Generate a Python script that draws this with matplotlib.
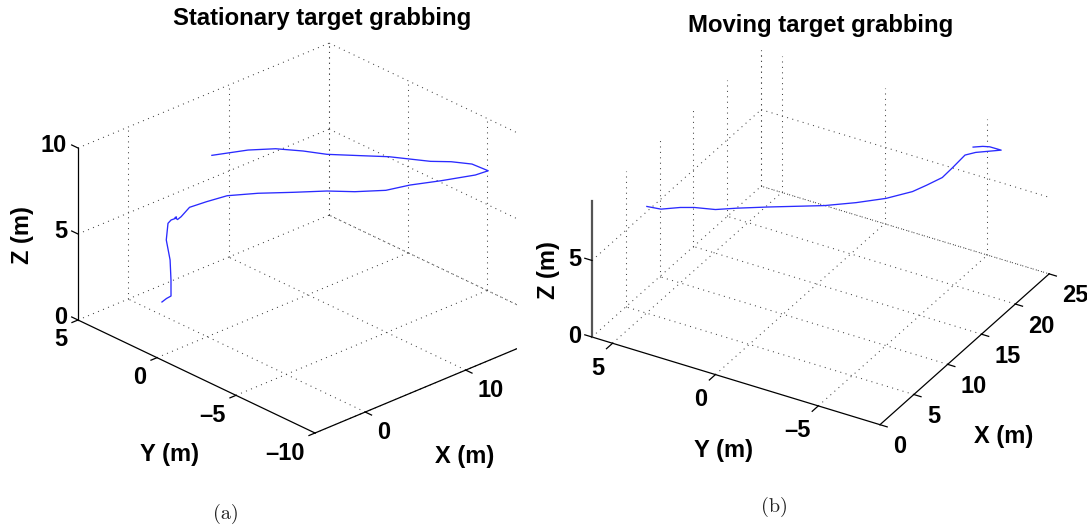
import matplotlib
matplotlib.use("Agg")
import matplotlib.pyplot as plt
from matplotlib.patches import Rectangle
from matplotlib.transforms import IdentityTransform
from mpl_toolkits.mplot3d import proj3d

W_PX, H_PX = 1087, 531
SANS = "Liberation Sans"

# ---------- data, panel (a) ----------
a_x = [-0.07, 0.27, 0.50, 0.56, 0.44, 0.17, 0.20, 0.35, 0.59, 0.59, 0.55, 0.55, 0.67, 1.40, 2.36, 3.73,
       5.45, 7.30, 9.17, 10.57, 12.37, 14.14, 16.36, 18.82, 19.98, 19.29, 18.25, 17.01, 14.94,
       13.41, 11.53, 10.44, 8.85, 7.05, 4.16]
a_y = [2.82, 2.75, 2.61, 2.65, 2.63, 2.70, 2.61, 2.51, 2.37, 2.32, 2.39, 2.23, 2.08, 2.01, 1.54, 1.11,
       0.25, -0.77, -1.75, -2.62, -3.44, -3.84, -4.39, -5.00, -5.08, -4.49, -3.83, -3.32, -2.01,
       -1.25, -0.25, 0.57, 1.30, 1.90, 2.35]
a_z = [0.8, 0.95, 1.1, 2.0, 3.2, 4.4, 5.4, 5.6, 5.7, 5.8, 5.75, 5.7, 5.9, 6.3, 6.6, 6.8,
       6.9, 6.95, 7.0, 7.0, 7.0, 7.05, 7.0, 7.0, 7.0, 7.3, 7.4, 7.5, 7.7,
       7.8, 7.9, 8.0, 8.2, 8.3, 8.5]
a_xlim, a_ylim, a_zlim = (-5, 20), (-10, 5), (0, 10)
a_xticks = [0, 10, 20]
a_yticks = [5, 0, -5, -10]
a_zticks = [0, 5, 10]

# ---------- data, panel (b) ----------
b_x = [3.06, 3.26, 4.19, 4.72, 5.26, 6.22, 7.56, 9.85, 11.41, 13.06, 14.89, 16.19, 17.75, 19.39,
       21.38, 22.11, 23.35, 23.33, 23.12, 22.67]
b_y = [4.34, 3.72, 3.09, 2.58, 1.73, 1.02, -0.08, -2.06, -3.09, -4.00, -4.68, -4.93, -5.19, -5.16,
       -5.10, -5.38, -6.21, -5.66, -5.39, -5.07]
b_z = [8.0] * 20
b_xlim, b_ylim, b_zlim = (0, 25), (-8, 6), (0, 8.9)
b_xticks = [0, 5, 10, 15, 20, 25]
b_yticks = [5, 0, -5]
b_zticks = [0, 5]

fig = plt.figure(figsize=(W_PX / 100, H_PX / 100), dpi=100, facecolor="white")


def make_axes(azim, elev, box, xlim, ylim, zlim, corner0, corner1, p0, p1):
    ax = fig.add_axes([0.1, 0.1, 500 / W_PX, 500 / H_PX], projection="3d")
    ax.set_proj_type("ortho")
    ax.view_init(elev=elev, azim=azim)
    ax.set_xlim(*xlim, view_margin=0)
    ax.set_ylim(*ylim, view_margin=0)
    ax.set_zlim(*zlim, view_margin=0)
    ax.set_box_aspect(box)
    ax.set_axis_off()
    ax.computed_zorder = False
    ax.apply_aspect()
    # place the axes so that two box corners land at the wanted pixels
    n0 = ax.transAxes.inverted().transform(to_disp(ax, *corner0))
    n1 = ax.transAxes.inverted().transform(to_disp(ax, *corner1))
    w = (p1[0] - p0[0]) / (n1[0] - n0[0])
    left = p0[0] - n0[0] * w
    bottom = (H_PX - p0[1]) - n0[1] * w
    ax.set_position([left / W_PX, bottom / H_PX, w / W_PX, w / H_PX])
    ax.apply_aspect()
    return ax


def to_disp(ax, x, y, z):
    xs, ys, _ = proj3d.proj_transform(x, y, z, ax.get_proj())
    return ax.transData.transform((xs, ys))


def put(ax, x, y, z, s, dx, dy, size=17, ha="center", **kw):
    px, py = to_disp(ax, x, y, z)
    return fig.text(px + dx, py - dy, s, transform=IdentityTransform(), ha=ha, va="center",
                    fontsize=size, fontweight="bold", family=SANS, **kw)


def segments(ax, segs, clip, **kw):
    for (p, q) in segs:
        ln, = ax.plot([p[0], q[0]], [p[1], q[1]], [p[2], q[2]], **kw)
        if clip is not None:
            ln.set_clip_path(Rectangle((0, 0), clip, H_PX, transform=IdentityTransform()))
        else:
            ln.set_clip_on(False)


def draw_box(ax, xlim, ylim, zlim, xt, yt, zt, ztop, clip, zaxis_kw, tick_dx, tick_dy, tick_dzy):
    x0, x1 = xlim
    y0, y1 = ylim
    z0 = zlim[0]
    gkw = dict(color="#444444", lw=0.75, linestyle=(0, (1, 4.2)), zorder=1)
    grid = []
    xs = [v for v in xt if v > x0]
    ys = [v for v in yt if v < y1]
    # left wall y = y1 and back wall x = x1
    for z in zt:
        grid.append(((x0, y1, z), (x1, y1, z)))
        grid.append(((x1, y1, z), (x1, y0, z)))
    for x in xs:
        grid.append(((x, y1, z0), (x, y1, ztop)))
    for y in ys:
        grid.append(((x1, y, z0), (x1, y, ztop)))
    grid.append(((x1, y1, z0), (x1, y1, ztop)))
    # floor
    for x in xs:
        grid.append(((x, y0, z0), (x, y1, z0)))
    for y in ys:
        grid.append(((x0, y, z0), (x1, y, z0)))
    segments(ax, grid, clip, **gkw)
    # axes lines
    akw = dict(color="black", lw=0.9, zorder=2)
    segments(ax, [((x0, y1, z0), (x0, y0, z0)), ((x0, y0, z0), (x1, y0, z0))], clip, **akw)
    segments(ax, [((x0, y1, z0), (x0, y1, ztop))], clip, **zaxis_kw)
    # ticks
    ticks = [((x, y0, z0), (x, y0 - tick_dy, z0)) for x in xt]
    ticks += [((x0, y, z0), (x0 - tick_dx, y, z0)) for y in yt]
    ticks += [((x0, y1, z), (x0, y1 + tick_dzy, z)) for z in zt]
    segments(ax, ticks, clip, **akw)


# ---------- panel (a) ----------
ax_a = make_axes(-133.1, 26.5, (343.6, 346.5, 192), a_xlim, a_ylim, a_zlim,
                 (-5, 5, 0), (-5, -10, 0), (78, 320), (315, 433))
draw_box(ax_a, a_xlim, a_ylim, a_zlim, a_xticks, a_yticks, a_zticks, 10, 517,
         dict(color="black", lw=0.9, zorder=2), 0.6, 0.4, 0.4)
ax_a.plot(a_x, a_y, a_z, color="#2a2aff", lw=0.95, zorder=3)
for z, s in zip(a_zticks, ["0", "5", "10"]):
    put(ax_a, -5, 5, z, s, -11, -2, ha="right")
for y, s in zip(a_yticks, ["5", "0", "\u20135", "\u201310"]):
    put(ax_a, -5, y, 0, s, -10.5, 20, ha="right")
for x, s in zip(a_xticks[:2], ["0", "10"]):
    put(ax_a, x, -10, 0, s, 12, 20, ha="left")
fig.text(322, H_PX - 18, "Stationary target grabbing", transform=IdentityTransform(), ha="center",
         va="center", fontsize=17.2, fontweight="bold", family=SANS)
fig.text(170, H_PX - 454, "Y (m)", transform=IdentityTransform(), ha="center", va="center",
         fontsize=17, fontweight="bold", family=SANS)
fig.text(465, H_PX - 456, "X (m)", transform=IdentityTransform(), ha="center", va="center",
         fontsize=17, fontweight="bold", family=SANS)
fig.text(22, H_PX - 235, "Z (m)", transform=IdentityTransform(), ha="center", va="center",
         rotation=90, fontsize=17, fontweight="bold", family=SANS)
fig.text(226, H_PX - 514, "(a)", transform=IdentityTransform(), ha="center", va="center",
         fontsize=14.5, family="cmr10", color="#222222")

# ---------- panel (b) ----------
ax_b = make_axes(-149.7, 31.4, (332.7, 331, 158.4), b_xlim, b_ylim, b_zlim,
                 (0, 6, 0), (0, -8, 0), (592, 337), (880, 426))
draw_box(ax_b, b_xlim, b_ylim, b_zlim, b_xticks, b_yticks, b_zticks, 8.9, None,
         dict(color="#555555", lw=1.6, zorder=2), 0.9, 0.35, 0.35)
ax_b.plot(b_x, b_y, b_z, color="#2a2aff", lw=0.95, zorder=3)
for z, s in zip(b_zticks, ["0", "5"]):
    put(ax_b, 0, 6, z, s, -11, -0.5, ha="right")
for y, s in zip(b_yticks, ["5", "0", "\u20135"]):
    put(ax_b, 0, y, 0, s, -8, 25, ha="right")
for x, s in zip(b_xticks, ["0", "5", "10", "15", "20", "25"]):
    put(ax_b, x, -8, 0, s, 13, 22, ha="left")
fig.text(820.5, H_PX - 25.5, "Moving target grabbing", transform=IdentityTransform(), ha="center",
         va="center", fontsize=17.2, fontweight="bold", family=SANS)
fig.text(724, H_PX - 451, "Y (m)", transform=IdentityTransform(), ha="center", va="center",
         fontsize=17, fontweight="bold", family=SANS)
fig.text(1004, H_PX - 437, "X (m)", transform=IdentityTransform(), ha="center", va="center",
         fontsize=17, fontweight="bold", family=SANS)
fig.text(549, H_PX - 270, "Z (m)", transform=IdentityTransform(), ha="center", va="center",
         rotation=90, fontsize=17, fontweight="bold", family=SANS)
fig.text(774, H_PX - 507, "(b)", transform=IdentityTransform(), ha="center", va="center",
         fontsize=14.5, family="cmr10", color="#222222")

fig.savefig("out.png", dpi=100, facecolor="white")
